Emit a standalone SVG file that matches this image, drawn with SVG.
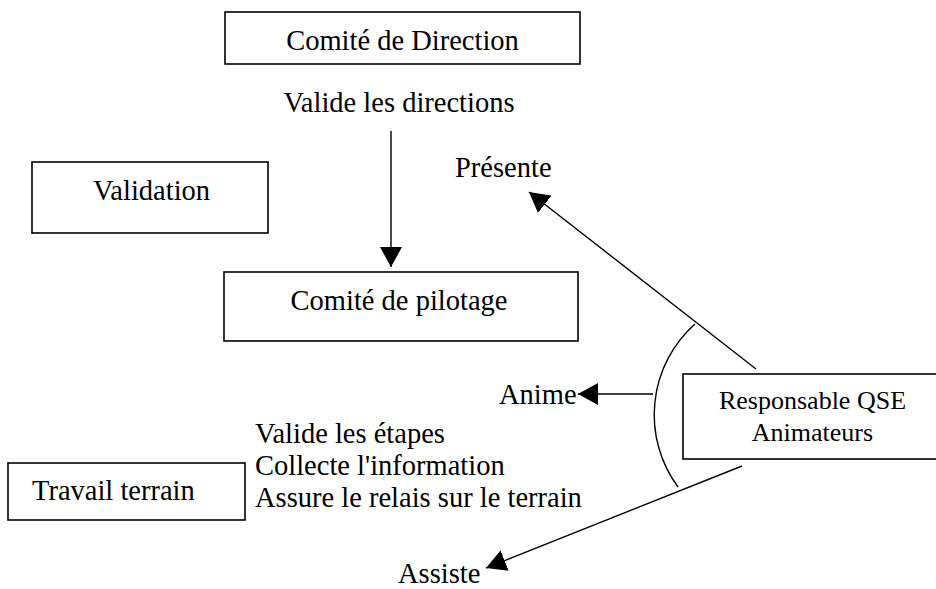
<svg xmlns="http://www.w3.org/2000/svg" width="936" height="589" viewBox="0 0 936 589" font-family="'Liberation Serif', 'Times New Roman', 'DejaVu Serif', serif">
<style>
.box{fill:#fff;stroke:#000;stroke-width:1.6}
.ln{fill:none;stroke:#000;stroke-width:1.4}
text{font-family:"Liberation Serif","Times New Roman","DejaVu Serif",serif;font-size:28.5px;fill:#000}
.sm{font-size:26px}
.c{text-anchor:middle}
</style>
<defs>
<marker id="ah" viewBox="0 0 20 22" refX="20" refY="11" markerWidth="20" markerHeight="22" markerUnits="userSpaceOnUse" orient="auto">
<path d="M0,0 L20,11 L0,22 z" fill="#000"/>
</marker>
</defs>
<rect width="936" height="589" fill="#fff"/>
<g id="comite-direction">
<rect class="box" x="225" y="12" width="355" height="52"/>
<text class="c" x="402.5" y="50">Comité de Direction</text>
</g>
<g id="validation">
<rect class="box" x="32" y="162" width="236" height="71"/>
<text class="c" x="151.5" y="200">Validation</text>
</g>
<g id="comite-pilotage">
<rect class="box" x="224" y="272" width="354" height="69"/>
<text class="c" x="399" y="310">Comité de pilotage</text>
</g>
<g id="responsable">
<rect class="box" x="683" y="374" width="260" height="85"/>
<text class="c sm" x="812.5" y="409">Responsable QSE</text>
<text class="c sm" x="812.5" y="441">Animateurs</text>
</g>
<g id="travail-terrain">
<rect class="box" x="8" y="463" width="237" height="57"/>
<text x="32" y="500">Travail terrain</text>
</g>
<g id="labels">
<text class="c" x="399" y="112">Valide les directions</text>
<text x="455" y="177">Présente</text>
<text x="499" y="404">Anime</text>
<text x="255" y="443">Valide les étapes</text>
<text x="255" y="475">Collecte l'information</text>
<text x="255" y="507">Assure le relais sur le terrain</text>
<text x="398" y="583">Assiste</text>
</g>
<g id="connectors">
<line class="ln" x1="391" y1="131" x2="391" y2="267" marker-end="url(#ah)"/>
<line class="ln" x1="756" y1="369" x2="529" y2="192" marker-end="url(#ah)"/>
<line class="ln" x1="653" y1="394" x2="578" y2="394" marker-end="url(#ah)"/>
<line class="ln" x1="742" y1="466" x2="486" y2="568" marker-end="url(#ah)"/>
<path class="ln" d="M695,324 A121.5,121.5 0 0 0 678,487"/>
</g>
</svg>
